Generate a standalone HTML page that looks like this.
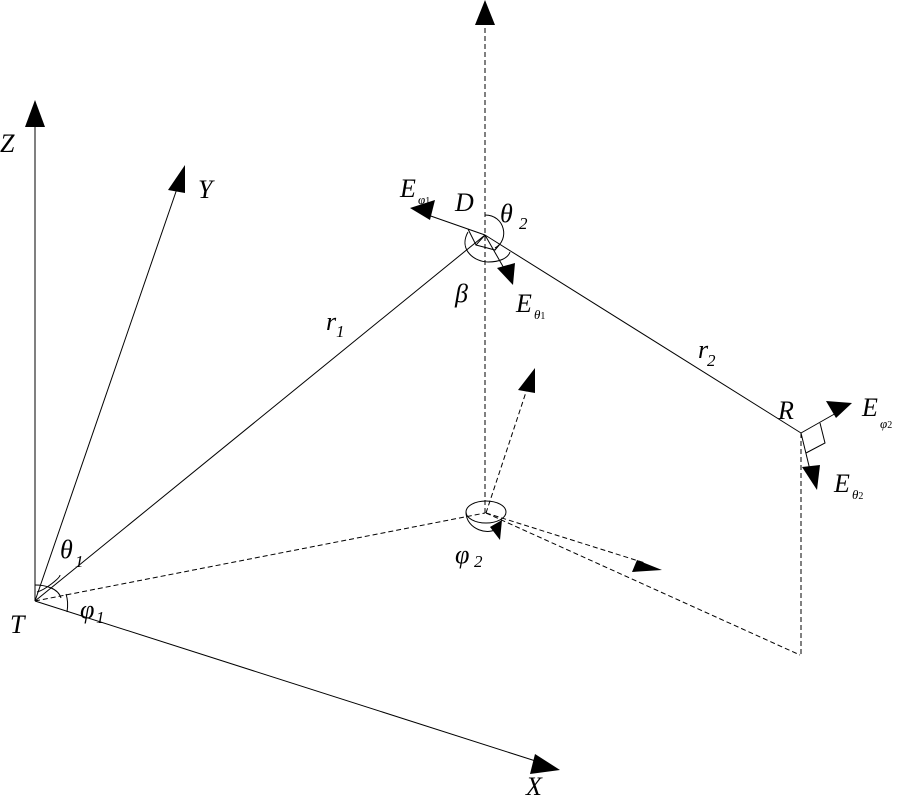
<!DOCTYPE html>
<html><head><meta charset="utf-8"><style>
html,body{margin:0;padding:0;background:#fff;}
svg{display:block;}
text{font-family:"Liberation Serif",serif;font-style:italic;fill:#000;}
</style></head><body>
<svg width="900" height="800" viewBox="0 0 900 800" xmlns="http://www.w3.org/2000/svg">
<g stroke="#000" stroke-width="1" fill="none">
<line x1="35" y1="601" x2="35" y2="120"/>
<line x1="35" y1="601" x2="180" y2="180"/>
<line x1="35" y1="601" x2="545" y2="764"/>
<line x1="35" y1="601" x2="485" y2="235"/>
<line x1="485" y1="235" x2="801" y2="433"/>
<line x1="485" y1="235" x2="425" y2="214"/>
<line x1="485" y1="235" x2="505" y2="270"/>
<line x1="801" y1="433" x2="838" y2="412"/>
<line x1="801" y1="433" x2="810" y2="470"/>
<polyline points="806,453 825,443 820,423"/>
<polyline points="468,229 476,245 485,235"/>
<polyline points="476,245 495,250 500,244"/>
<path d="M485,215 C505,215 510,240 495,248"/>
<path d="M468,232 C458,250 475,262 488,262 C500,262 508,258 510,252"/>
<path d="M35,585 C45,585 58,588 61,598"/>
<path d="M37,592 C45,590 60,578 60,575"/>
<path d="M66,594 C68,600 68,606 67,612"/>
<ellipse cx="486" cy="512" rx="20" ry="11"/>
<path d="M466,512 C466,530 490,536 497,528"/>
</g>
<g stroke="#000" stroke-width="1" fill="none" stroke-dasharray="5,3">
<line x1="485" y1="20" x2="485" y2="513"/>
<line x1="35" y1="601" x2="485" y2="513"/>
<line x1="486" y1="513" x2="530" y2="380"/>
<line x1="486" y1="513" x2="645" y2="563"/>
<line x1="486" y1="513" x2="800" y2="655"/>
<line x1="801" y1="433" x2="801" y2="655"/>
</g>
<g fill="#000">
<polygon points="35,100 25,127 45,127"/>
<polygon points="485,0 475,25 495,25"/>
<polygon points="185,165 168,190 185,193"/>
<polygon points="560,770 535,754 530,774"/>
<polygon points="410,208 435,200 430,220"/>
<polygon points="513,285 497,268 515,263"/>
<polygon points="852,403 826,401 836,418"/>
<polygon points="817,490 802,467 820,465"/>
<polygon points="535,368 518,390 535,393"/>
<polygon points="662,570 637,560 632,572"/>
<polygon points="490,527 502,520 500,540"/>
</g>
<g font-size="26" font-weight="500">
<text x="0" y="152">Z</text>
<text x="198" y="198">Y</text>
<text x="526" y="795">X</text>
<text x="10" y="633">T</text>
<text x="455" y="211">D</text>
<text x="778" y="419">R</text>
<text x="400" y="197">E</text>
<text x="516" y="312">E</text>
<text x="862" y="416">E</text>
<text x="834" y="492">E</text>
<text x="500" y="222">θ</text>
<text x="60" y="558">θ</text>
<text x="455" y="302">β</text>
<text x="80" y="618">φ</text>
<text x="455" y="563">φ</text>
<text x="326" y="330">r</text>
<text x="698" y="358">r</text>
</g>
<g font-size="17" font-style="normal">
<text x="519" y="229">2</text>
<text x="75" y="567">1</text>
<text x="96" y="623">1</text>
<text x="474" y="567">2</text>
<text x="336" y="337">1</text>
<text x="707" y="366">2</text>
</g>
<g font-size="13">
<text x="418" y="204">φ<tspan font-style="normal" font-size="10">1</tspan></text>
<text x="534" y="319">θ<tspan font-style="normal" font-size="10">1</tspan></text>
<text x="880" y="428">φ<tspan font-style="normal" font-size="10">2</tspan></text>
<text x="852" y="499">θ<tspan font-style="normal" font-size="10">2</tspan></text>
</g>
</svg>
</body></html>
